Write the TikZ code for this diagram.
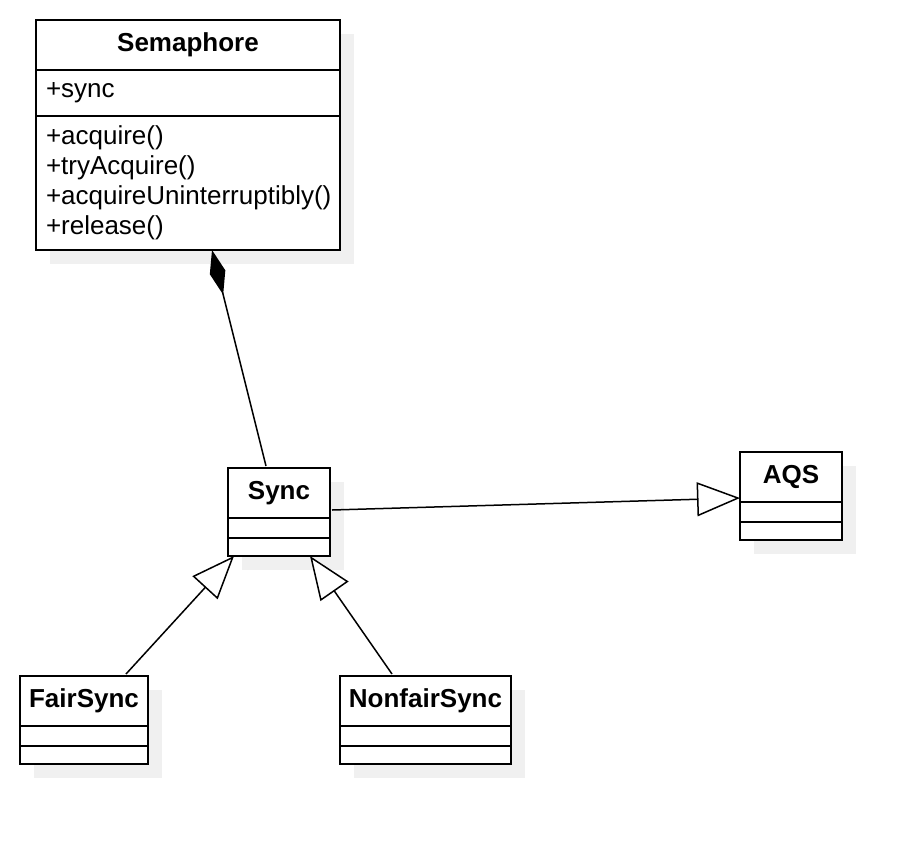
\documentclass[tikz,border=0pt]{standalone}
\usepackage{fontspec}
\setmainfont{Liberation Sans}
\usetikzlibrary{arrows.meta,positioning,backgrounds}
\definecolor{sombra}{HTML}{F0F0F0}
\definecolor{tinta}{HTML}{000000}

\begin{document}
\begin{tikzpicture}[x=1pt,y=-1pt,
  caja/.style={draw=tinta,line width=2pt,fill=white,outer sep=0pt,inner sep=0pt,font=\fontsize{26}{30}\selectfont},
  titulo/.style={caja,font=\fontsize{26}{30}\selectfont\bfseries},
  linea/.style={draw=tinta,line width=1.5pt},
  hereda/.style={linea,-{Triangle[length=43pt,width=34pt,fill=white]}}]
\useasboundingbox (0,0) rectangle (920,844);

\node[titulo,minimum width=304pt,minimum height=50pt] (sem) at (188,45) {Semaphore};
\node[caja,minimum width=304pt,minimum height=46pt,text width=284pt,align=left,below=0pt of sem] (sem2) {+sync};
\node[caja,minimum width=304pt,minimum height=134pt,text width=284pt,align=left,below=0pt of sem2] (sem3) {+acquire()\\+tryAcquire()\\+acquireUninterruptibly()\\+release()};

\foreach \nom/\txt/\x/\y/\w in {sync/Sync/279/493/102,aqs/AQS/791/477/102,fair/FairSync/84/701/128,nonfair/NonfairSync/425.5/701/171} {
  \node[titulo,minimum width=\w pt,minimum height=50pt] (\nom) at (\x,\y) {\txt};
  \node[caja,minimum width=\w pt,minimum height=20pt,below=0pt of \nom] (\nom1) {};
  \node[caja,minimum width=\w pt,minimum height=18pt,below=0pt of \nom1] (\nom2) {};
}

\begin{scope}[on background layer]
\foreach \a/\b in {sem/sem3,sync/sync2,aqs/aqs2,fair/fair2,nonfair/nonfair2}
  \fill[sombra] ([shift={(14,14)}]\a.north west) rectangle ([shift={(14,14)}]\b.south east);
\end{scope}

\draw[linea,-{Diamond[length=46pt,width=16pt]}] ([xshift=-13pt,yshift=2pt]sync.north) -- ([xshift=24pt]sem3.south);
\draw[hereda] ([xshift=2pt,yshift=8pt]sync.south east) -- ([yshift=4pt]aqs.south west);
\draw[hereda] ([xshift=42pt,yshift=2pt]fair.north) -- ([xshift=-45pt]sync2.south);
\draw[hereda] ([xshift=-33.5pt,yshift=2pt]nonfair.north) -- ([xshift=31pt]sync2.south);

\end{tikzpicture}
\end{document}
